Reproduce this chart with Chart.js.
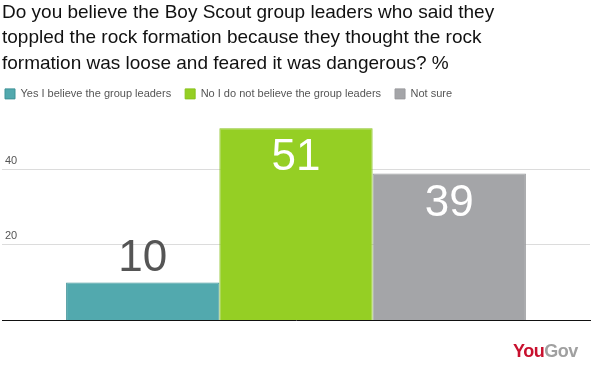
<!DOCTYPE html>
<html><head><meta charset="utf-8">
<script src="https://cdn.jsdelivr.net/npm/chart.js@4"></script>
<style>
html,body{margin:0;padding:0;background:#fff;}
#wrap{position:relative;width:600px;height:384px;}
#logo{position:absolute;left:513px;top:342px;line-height:18px;font-family:"Liberation Sans",Arial,sans-serif;font-weight:bold;font-size:18px;letter-spacing:-0.5px;}
#logo .y{color:#c8102e}#logo .g{color:#a0a0a0}
</style></head><body>
<div id="wrap"><canvas id="c" width="600" height="384"></canvas>
<div id="logo"><span class="y">You</span><span class="g">Gov</span></div></div>
<script>
const titleLines = ["Do you believe the Boy Scout group leaders who said they","toppled the rock formation because they thought the rock","formation was loose and feared it was dangerous? %"];
const categories = [""];
const seriesNames = ["Yes I believe the group leaders","No I do not believe the group leaders","Not sure"];
const seriesValues = [10, 51, 39];
const seriesColors = ["#52a9ae","#95cf24","#a4a5a8"];
const borderColors = ["#3f9397","#88c21e","#9a9b9e"];
const labelColors = ["#555555","#ffffff","#ffffff"];
const labelInside = [false, true, true];
const yTicks = [20, 40];
const yMax = 55.5;

const valueLabels = {
  id:'valueLabels',
  afterDatasetsDraw(chart){
    const ctx = chart.ctx;
    ctx.save();
    ctx.font = '44px "Liberation Sans", Arial, sans-serif';
    ctx.textAlign = 'center';
    ctx.textBaseline = 'middle';
    chart.data.datasets.forEach((ds,i)=>{
      const el = chart.getDatasetMeta(i).data[0];
      ctx.fillStyle = labelColors[i];
      const y = labelInside[i] ? el.y + 30 : el.y - 24;
      ctx.fillText(String(ds.data[0]), el.x, y);
    });
    ctx.restore();
  }
};
const legendShift = {
  id:'legendShift',
  afterLayout(chart){ if(chart.legend){ chart.legend.left -= 11; chart.legend.top -= 2; } }
};

new Chart(document.getElementById('c'), {
  type:'bar',
  data:{
    labels:categories,
    datasets: seriesNames.map((n,i)=>({
      label:n, data:[seriesValues[i]], backgroundColor:seriesColors[i],
      borderColor:borderColors[i], borderWidth:1
    }))
  },
  plugins:[valueLabels, legendShift],
  options:{
    responsive:false, animation:false,
    layout:{padding:{left:2,right:10,top:0,bottom:56}},
    datasets:{bar:{categoryPercentage:0.782, barPercentage:1}},
    plugins:{
      title:{display:true, text:titleLines, align:'start', color:'#111',
        font:{family:'"Liberation Sans", Arial, sans-serif', size:19, weight:'normal', lineHeight:1.34},
        padding:{top:0,bottom:0}},
      legend:{display:true, align:'start',
        labels:{boxWidth:10, boxHeight:10, color:'#555', padding:14,
          font:{family:'"Liberation Sans", Arial, sans-serif', size:11}}},
      tooltip:{enabled:false}
    },
    scales:{
      x:{grid:{display:false}, ticks:{display:false},
        border:{display:true,color:'#111',width:1}},
      y:{min:0, max:yMax,
        afterBuildTicks(scale){ scale.ticks = yTicks.map(v=>({value:v})); },
        afterFit(scale){ scale.width = 0; },
        grid:{color:'#dcdcdc', drawTicks:false},
        border:{display:false},
        ticks:{mirror:true, labelOffset:-9, padding:3, color:'#555',
          font:{family:'"Liberation Sans", Arial, sans-serif', size:11}}}
    }
  }
});
</script></body></html>
